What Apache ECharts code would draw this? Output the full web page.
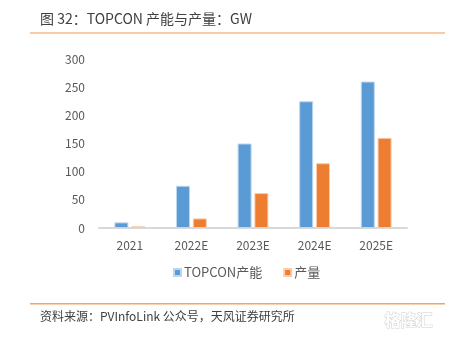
<!DOCTYPE html>
<html><head><meta charset="utf-8">
<script src="https://cdn.jsdelivr.net/npm/echarts@6/dist/echarts.min.js"></script>
<style>html,body{margin:0;padding:0;background:#fff}#c{width:458px;height:338px}</style>
</head><body><div id="c"></div>
<script>
const categories = ['2021', '2022E', '2023E', '2024E', '2025E'];
const capacity = [10, 75, 150, 225, 260];
const output = [3, 17, 62, 115, 160];
const seriesNames = ['TOPCON产能', '产量'];
const yTicks = { min: 0, max: 300, interval: 50 };

const font = '"Noto Sans CJK SC", "Microsoft YaHei", sans-serif';
const chart = echarts.init(document.getElementById('c'));
chart.setOption({
  backgroundColor: '#fff',
  animation: false,
  grid: { left: 99, right: 51, top: 59, bottom: 110, containLabel: false },
  legend: {
    data: seriesNames, top: 261, left: 168,
    itemWidth: 7, itemHeight: 7, itemGap: 21, icon: 'rect',
    textStyle: { fontFamily: font, fontSize: 13, color: '#595959', padding: [0,0,0,-2] }
  },
  xAxis: {
    type: 'category', data: categories,
    axisLine: { lineStyle: { color: '#d9d9d9', width: 2 } },
    axisTick: { show: false },
    axisLabel: { fontFamily: font, fontSize: 12, color: '#595959', margin: 11 }
  },
  yAxis: {
    type: 'value', min: yTicks.min, max: yTicks.max, interval: yTicks.interval,
    axisLine: { show: false }, axisTick: { show: false }, splitLine: { show: false },
    axisLabel: { fontFamily: font, fontSize: 12, color: '#595959', margin: 14 }
  },
  series: [
    { name: seriesNames[0], type: 'bar', data: capacity, barWidth: 14, barGap: '20%',
      itemStyle: { color: '#5b9bd5', borderColor: '#bdd7ee', borderWidth: 1 } },
    { name: seriesNames[1], type: 'bar', data: output, barWidth: 14,
      itemStyle: { color: '#ed7d31', borderColor: '#f8cbad', borderWidth: 1 } }
  ],
  graphic: [
    { type: 'text', left: 40, top: 12, style: { text: '图 32：TOPCON 产能与产量：GW', font: '14px ' + font, fill: '#404040' } },
    { type: 'rect', shape: { x: 30, y: 32, width: 415, height: 2 }, style: { fill: '#f8cba6' } },
    { type: 'rect', shape: { x: 30, y: 303, width: 415, height: 1.5 }, style: { fill: '#f4a460' } },
    { type: 'text', left: 40, top: 310, style: { text: '资料来源：PVInfoLink 公众号，天风证券研究所', font: '12px ' + font, fill: '#404040' } },
    { type: 'text', left: 384, top: 311, style: { text: '格隆汇', font: 'bold 16px ' + font, fill: '#ffffff', stroke: '#d0d0d0', lineWidth: 1 } }
  ]
});
</script></body></html>
